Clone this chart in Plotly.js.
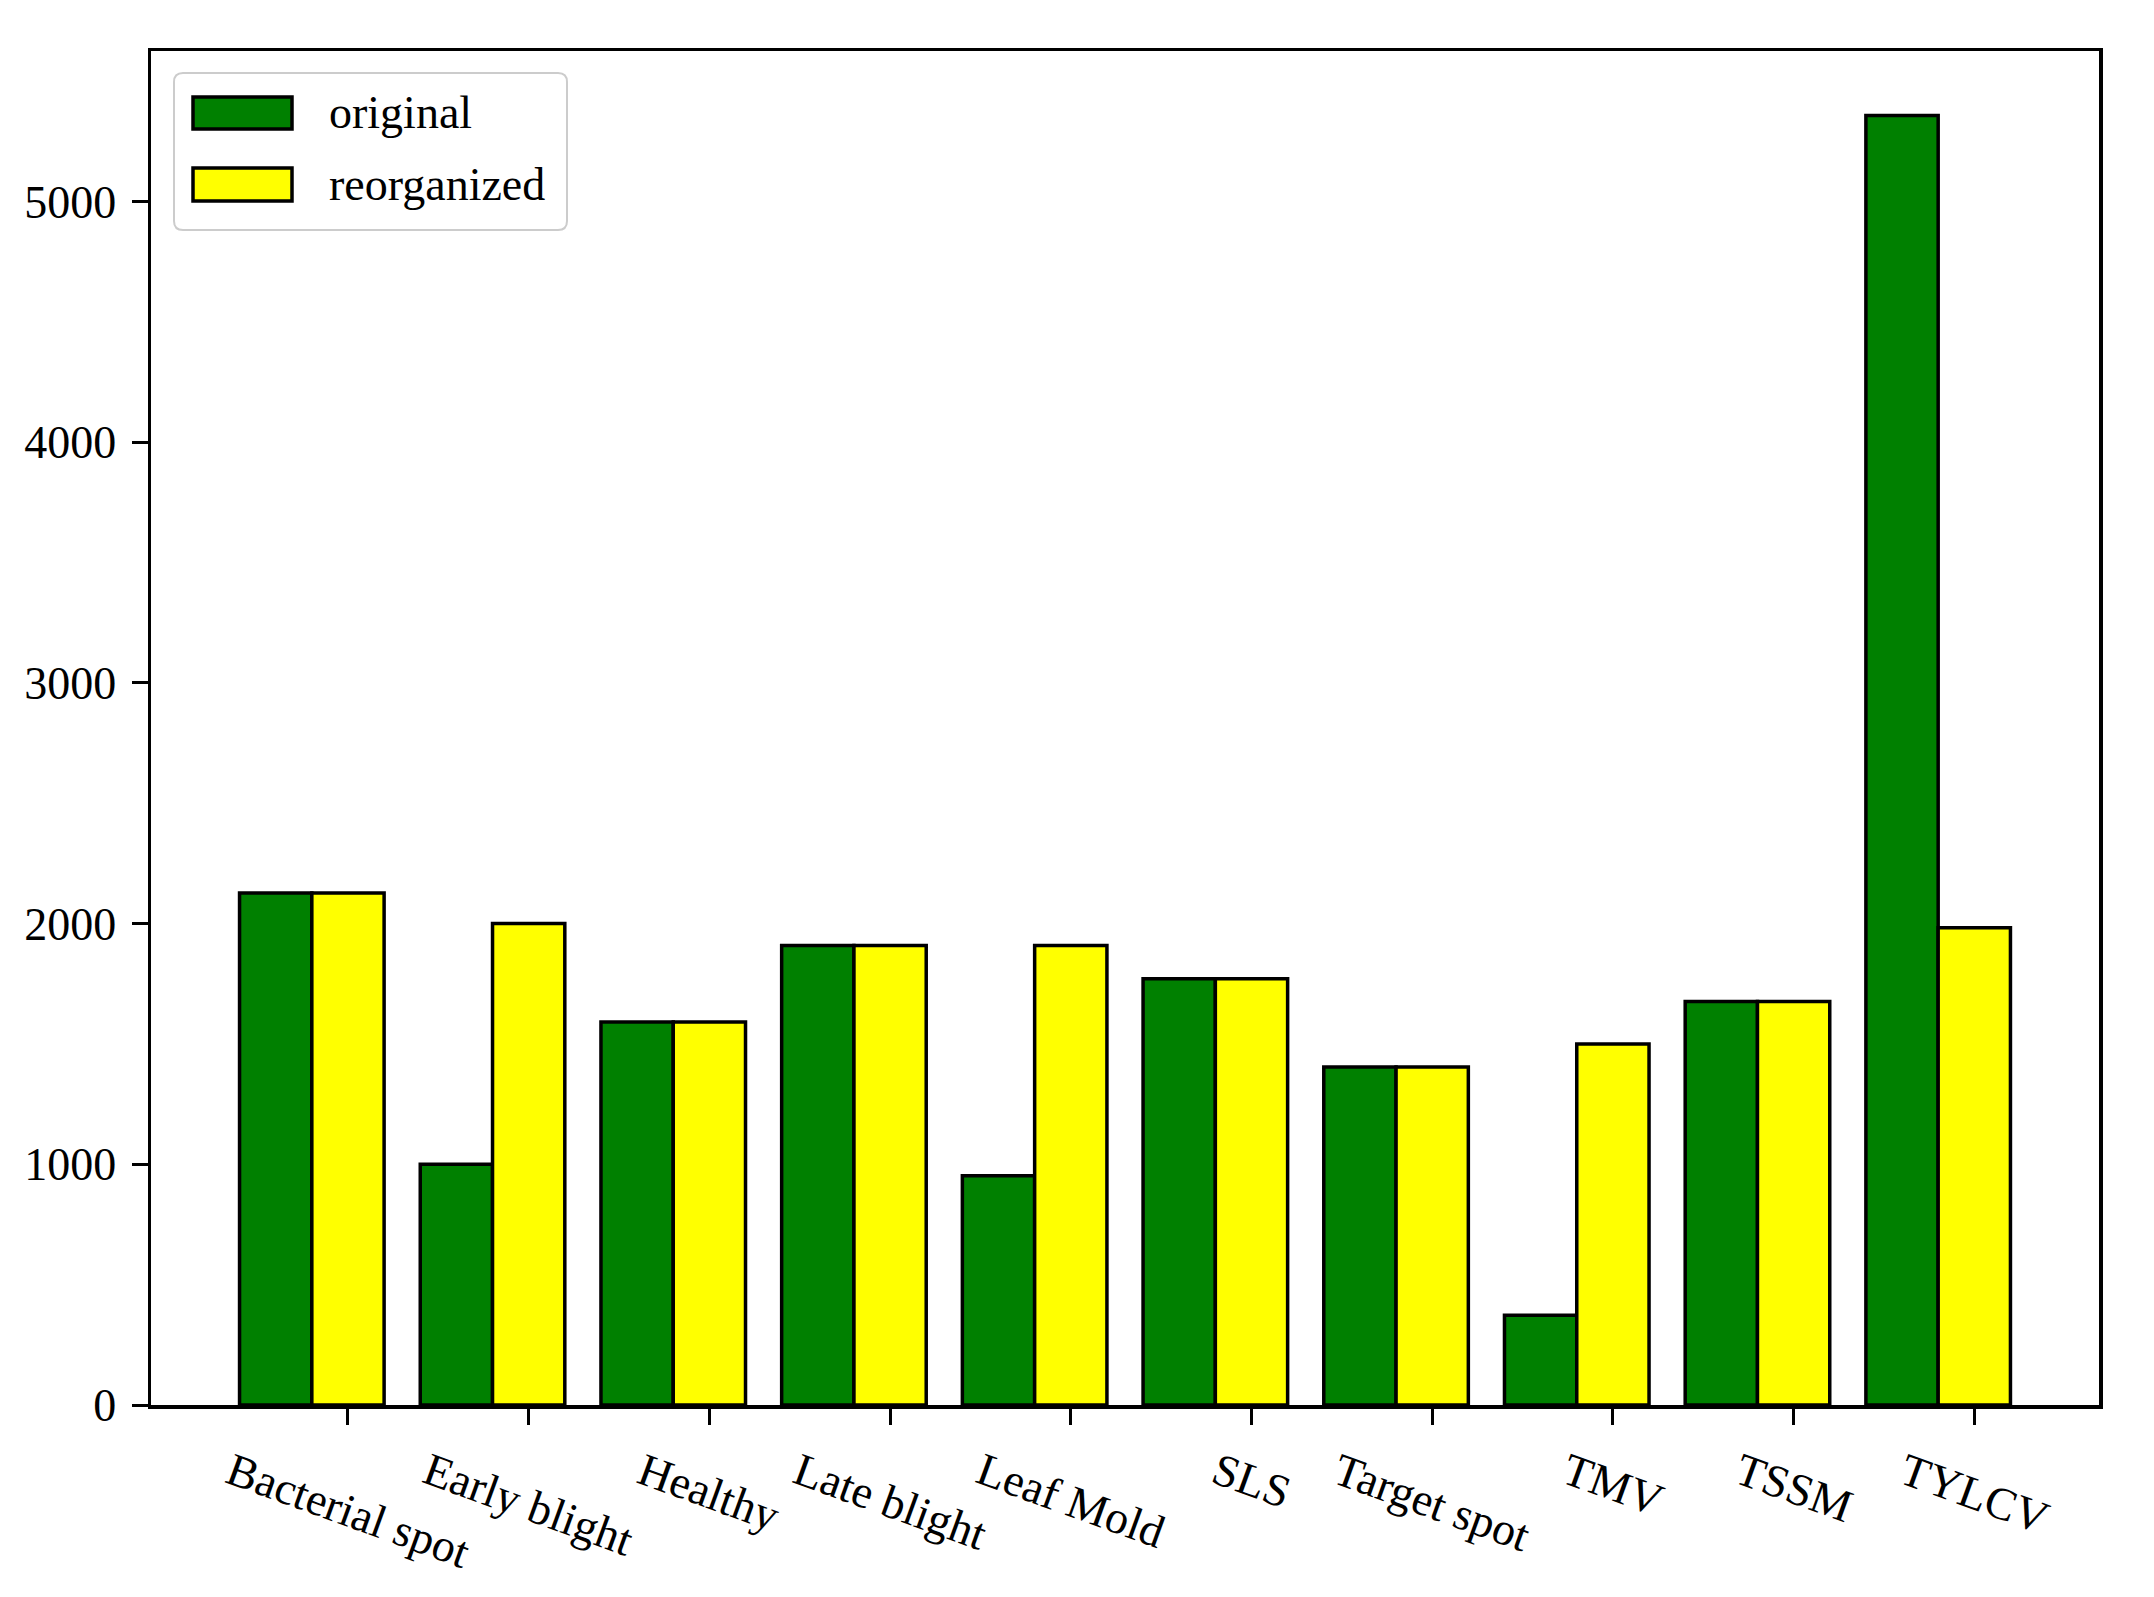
<!DOCTYPE html>
<html>
<head>
<meta charset="utf-8">
<script src="https://cdn.plot.ly/plotly-3.0.1.min.js"></script>
<style>html,body{margin:0;padding:0;background:#fff;}</style>
</head>
<body>
<div id="chart" style="width:2154px;height:1597px;"></div>
<script>
// ---- data ----
const categories = ["Bacterial spot","Early blight","Healthy","Late blight","Leaf Mold","SLS","Target spot","TMV","TSSM","TYLCV"];
const original = [2127, 1000, 1591, 1909, 952, 1771, 1404, 373, 1676, 5357];
const reorganized = [2127, 2000, 1591, 1909, 1909, 1771, 1404, 1500, 1676, 1983];
const seriesNames = ["original", "reorganized"];
const seriesColors = ["#008000", "#ffff00"];
const yTickValues = [0, 1000, 2000, 3000, 4000, 5000];

// ---- layout geometry (pixels) ----
const W = 2154, H = 1597;
const L = 151, R = 2099, T = 51, B = 1405;
const FONT = "Liberation Serif, Times New Roman, serif";
const FS = 46;
const px = p => (p - L) / (R - L);
const py = p => (B - p) / (B - T);

const traces = [
  {type: "bar", name: seriesNames[0], x: categories, y: original,
   width: 0.4, offset: -0.6,
   marker: {color: seriesColors[0], line: {color: "#000", width: 3.5}},
   hoverinfo: "x+y"},
  {type: "bar", name: seriesNames[1], x: categories, y: reorganized,
   width: 0.4, offset: -0.2,
   marker: {color: seriesColors[1], line: {color: "#000", width: 3.5}},
   hoverinfo: "x+y"}
];

// rotated, centred tick labels (matplotlib style)
const annotations = categories.map(c => ({
  x: c, xref: "x", y: 0, yref: "paper", yshift: -37,
  xanchor: "center", yanchor: "top", textangle: 20,
  text: c, showarrow: false, borderpad: 0,
  font: {family: FONT, size: FS, color: "#000"}
}));

// legend entries
const legRows = [113, 184.5];
seriesNames.forEach((n, i) => {
  annotations.push({
    x: px(327), xref: "paper", y: py(legRows[i]), yref: "paper",
    xanchor: "left", yanchor: "middle", text: n, showarrow: false,
    font: {family: FONT, size: FS, color: "#000"}
  });
});

// rounded legend frame
function roundRect(x0, y0, x1, y1, r) {
  const X = v => px(v), Y = v => py(v);
  return `M${X(x0 + r)},${Y(y0)} L${X(x1 - r)},${Y(y0)} Q${X(x1)},${Y(y0)} ${X(x1)},${Y(y0 + r)} ` +
         `L${X(x1)},${Y(y1 - r)} Q${X(x1)},${Y(y1)} ${X(x1 - r)},${Y(y1)} ` +
         `L${X(x0 + r)},${Y(y1)} Q${X(x0)},${Y(y1)} ${X(x0)},${Y(y1 - r)} ` +
         `L${X(x0)},${Y(y0 + r)} Q${X(x0)},${Y(y0)} ${X(x0 + r)},${Y(y0)} Z`;
}
const shapes = [
  {type: "path", xref: "paper", yref: "paper", path: roundRect(174, 73, 567, 230, 9),
   fillcolor: "rgba(255,255,255,0.8)", line: {color: "#cccccc", width: 2}, layer: "above"}
];
const patchY = [[97, 129], [168, 201]];
seriesNames.forEach((n, i) => {
  shapes.push({type: "rect", xref: "paper", yref: "paper",
    x0: px(193), x1: px(292), y0: py(patchY[i][1]), y1: py(patchY[i][0]),
    fillcolor: seriesColors[i], line: {color: "#000", width: 3.5}, layer: "above"});
});

const layout = {
  width: W, height: H,
  margin: {l: L, r: W - R, t: T, b: H - B, pad: 0},
  paper_bgcolor: "#fff", plot_bgcolor: "#fff",
  showlegend: false,
  barmode: "overlay",
  font: {family: FONT, size: FS, color: "#000"},
  xaxis: {
    type: "category", range: [-1.09, 9.69],
    showgrid: false, zeroline: false,
    showline: true, linecolor: "#000", linewidth: 3.5, mirror: true,
    ticks: "outside", ticklen: 16, tickwidth: 3, tickcolor: "#000",
    showticklabels: false
  },
  yaxis: {
    range: [0, 5625],
    tickvals: yTickValues, ticktext: yTickValues.map(String),
    showgrid: false, zeroline: false,
    showline: true, linecolor: "#000", linewidth: 3.5, mirror: true,
    ticks: "outside", ticklen: 16, tickwidth: 3, tickcolor: "#000",
    ticklabelstandoff: 6,
    tickfont: {family: FONT, size: FS, color: "#000"}
  },
  annotations: annotations,
  shapes: shapes
};

Plotly.newPlot("chart", traces, layout, {displayModeBar: false, staticPlot: true});
</script>
</body>
</html>
